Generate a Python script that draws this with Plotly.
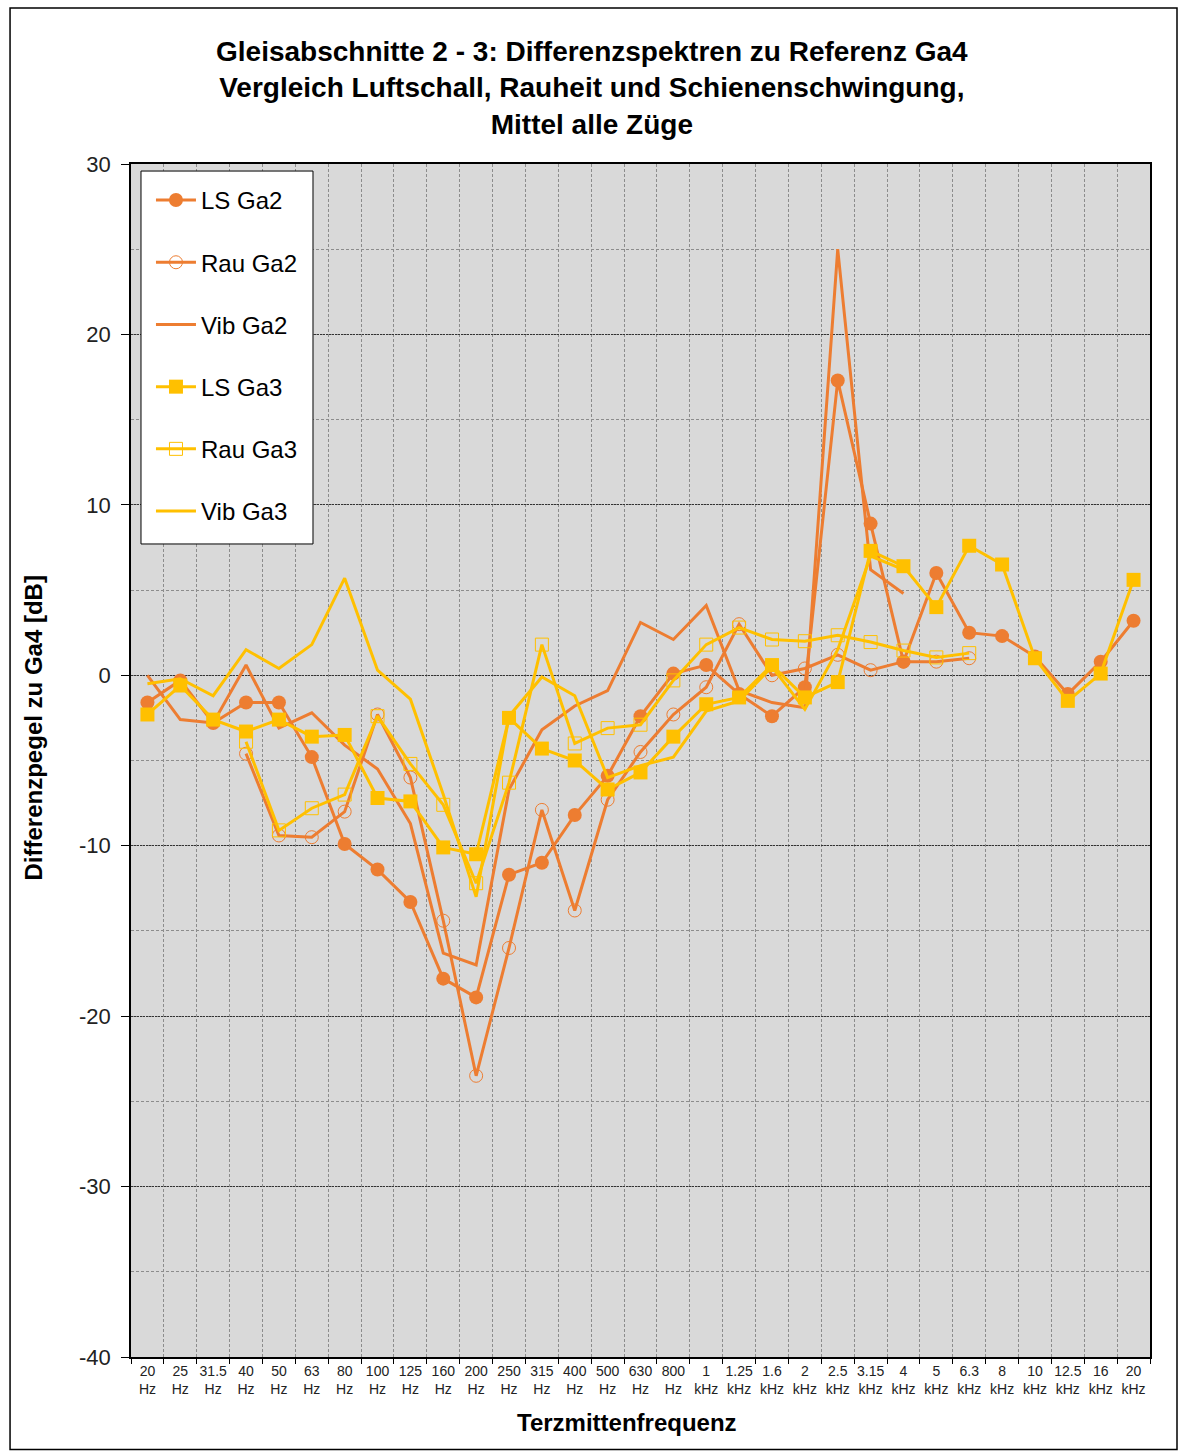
import plotly.graph_objects as go

categories = ["20 Hz", "25 Hz", "31.5 Hz", "40 Hz", "50 Hz", "63 Hz", "80 Hz", "100 Hz",
              "125 Hz", "160 Hz", "200 Hz", "250 Hz", "315 Hz", "400 Hz", "500 Hz", "630 Hz",
              "800 Hz", "1 kHz", "1.25 kHz", "1.6 kHz", "2 kHz", "2.5 kHz", "3.15 kHz", "4 kHz",
              "5 kHz", "6.3 kHz", "8 kHz", "10 kHz", "12.5 kHz", "16 kHz", "20 kHz"]
tick_labels = [c.replace(" ", "<br>") for c in categories]
y_ticks = [-40, -30, -20, -10, 0, 10, 20, 30]

ls_ga2 = [-1.6, -0.3, -2.8, -1.6, -1.6, -4.8, -9.9, -11.4, -13.3, -17.8, -18.9, -11.7, -11.0,
          -8.2, -5.9, -2.4, 0.1, 0.6, -1.1, -2.4, -0.7, 17.3, 8.9, 0.8, 6.0, 2.5, 2.3, 1.1,
          -1.1, 0.8, 3.2]
rau_ga2 = [None, None, None, -4.6, -9.4, -9.5, -8.0, -2.3, -6.0, -14.4, -23.5, -16.0, -7.9,
           -13.8, -7.3, -4.5, -2.3, -0.7, 3.0, 0.0, 0.4, 1.2, 0.3, 0.8, 0.8, 1.0,
           None, None, None, None, None]
vib_ga2 = [0.0, -2.6, -2.8, 0.6, -3.1, -2.2, -4.1, -5.5, -8.7, -16.3, -17.0, -6.7, -3.2,
           -1.8, -0.9, 3.1, 2.1, 4.1, -0.9, -1.6, -1.9, 25.0, 6.2, 4.8,
           None, None, None, None, None, None, None]
ls_ga3 = [-2.3, -0.6, -2.6, -3.3, -2.6, -3.6, -3.5, -7.2, -7.4, -10.1, -10.5, -2.5, -4.3,
          -5.0, -6.7, -5.7, -3.6, -1.7, -1.3, 0.6, -1.3, -0.4, 7.3, 6.4, 4.0, 7.6, 6.5, 1.0,
          -1.5, 0.1, 5.6]
rau_ga3 = [None, None, None, -3.9, -9.1, -7.8, -7.0, -2.4, -5.2, -7.6, -12.2, -6.3, 1.8,
           -4.0, -3.1, -2.9, -0.3, 1.8, 2.8, 2.1, 2.0, 2.35, 1.95, 1.45, 1.05, 1.3,
           None, None, None, None, None]
vib_ga3 = [-0.5, -0.2, -1.2, 1.5, 0.4, 1.8, 5.7, 0.3, -1.4, -7.0, -13.0, -2.4, -0.1,
           -1.2, -6.0, -5.3, -4.8, -2.1, -1.5, 0.5, -2.0, 1.5, 7.0, 6.2,
           None, None, None, None, None, None, None]

ORANGE = "#ED7D31"
YELLOW = "#FFC000"
FONT = "Arial, Liberation Sans, sans-serif"

fig = go.Figure()

def add(name, y, color, mode, symbol=None, size=14, mlw=0):
    kw = dict(x=categories, y=y, name=name, mode=mode, legendgroup=name,
              line=dict(color=color, width=3), connectgaps=False)
    if symbol:
        kw["marker"] = dict(symbol=symbol, size=size, color=color,
                            line=dict(color=color, width=mlw))
    fig.add_trace(go.Scatter(**kw))

add("LS Ga2", ls_ga2, ORANGE, "lines+markers", "circle", 14)
add("Rau Ga2", rau_ga2, ORANGE, "lines+markers", "circle-open", 13, 1)
add("Vib Ga2", vib_ga2, ORANGE, "lines")
add("LS Ga3", ls_ga3, YELLOW, "lines+markers", "square", 14)
add("Rau Ga3", rau_ga3, YELLOW, "lines+markers", "square-open", 13, 1)
add("Vib Ga3", vib_ga3, YELLOW, "lines")

fig.update_layout(
    width=1179, height=1452,
    margin=dict(l=131, r=29, t=164, b=95),
    paper_bgcolor="white",
    plot_bgcolor="#D9D9D9",
    font=dict(family=FONT, color="black"),
    title=dict(
        text="<b>Gleisabschnitte 2 - 3: Differenzspektren zu Referenz Ga4<br>"
             "Vergleich Luftschall, Rauheit und Schienenschwingung,<br>"
             "Mittel alle Züge</b>",
        x=0.502, xanchor="center", xref="container",
        y=0.958, yanchor="top", yref="container",
        font=dict(size=28, family=FONT, color="black"),
    ),
    legend=dict(
        x=0.0196, y=0.9883, xanchor="left", yanchor="top",
        bgcolor="rgba(0,0,0,0)", borderwidth=0,
        font=dict(size=24, family=FONT, color="black"),
        tracegroupgap=28, itemwidth=40,
    ),
    showlegend=True,
)

fig.update_xaxes(
    type="category",
    categoryorder="array", categoryarray=categories,
    range=[-0.5, 30.5], autorange=False,
    tickvals=categories, ticktext=tick_labels, tickangle=0,
    tickson="boundaries",
    ticks="outside", ticklen=5, tickcolor="black",
    showgrid=True, gridcolor="#8c8c8c", griddash="3px,2px", gridwidth=1,
    showline=True, linecolor="black", linewidth=1.5, mirror=True,
    tickfont=dict(size=14, family=FONT, color="#222222"),
)

fig.update_yaxes(
    range=[-40, 30], autorange=False,
    tickvals=y_ticks, ticktext=[str(v) for v in y_ticks],
    ticks="outside", ticklen=8, tickcolor="black",
    ticklabelstandoff=6,
    showgrid=True, gridcolor="#333333", griddash="2px,1px", gridwidth=1,
    minor=dict(dtick=5, tick0=0, showgrid=True, gridcolor="#8c8c8c", griddash="3px,2px", gridwidth=1),
    zeroline=False,
    showline=True, linecolor="black", linewidth=1.5, mirror=True,
    tickfont=dict(size=22, family=FONT, color="#222222"),
)

fig.add_annotation(text="<b>Terzmittenfrequenz</b>", xref="paper", yref="paper",
                   x=0.487, y=-0.0545, xanchor="center", yanchor="middle",
                   showarrow=False, font=dict(size=24, family=FONT, color="black"))
fig.add_annotation(text="<b>Differenzpegel zu Ga4 [dB]</b>", xref="paper", yref="paper",
                   x=-0.096, y=0.527, xanchor="center", yanchor="middle", textangle=-90,
                   showarrow=False, font=dict(size=24, family=FONT, color="black"))

# legend box
fig.add_shape(type="rect", xref="paper", yref="paper",
              x0=0.0098, x1=0.1786, y0=0.6815, y1=0.9941,
              line=dict(color="black", width=1), fillcolor="white", layer="above")

# outer chart frame
fig.add_shape(type="rect", xref="paper", yref="paper",
              x0=-0.1187, x1=1.0265, y0=-0.0775, y1=1.1308,
              line=dict(color="black", width=1.5), fillcolor="rgba(0,0,0,0)", layer="above")

fig.write_html("out.html")
